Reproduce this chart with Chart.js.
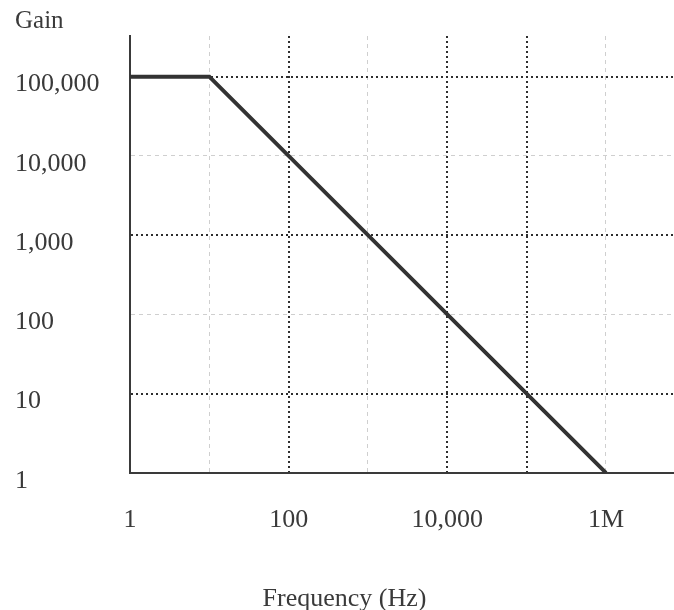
<!DOCTYPE html>
<html>
<head>
<meta charset="utf-8">
<script src="https://cdn.jsdelivr.net/npm/chart.js@4.4.1/dist/chart.umd.min.js"></script>
<style>
  html, body { margin: 0; padding: 0; background: #fff; }
  #wrap { width: 674px; height: 610px; }
</style>
</head>
<body>
<div id="wrap"><canvas id="gain_chart"></canvas></div>
<script>
// open-loop gain vs frequency (log-log)
var freq = [1, 10, 1000000];
var gain = [100000, 100000, 1];

var xTicks = [1, 10, 100, 1000, 10000, 100000, 1000000];
var xLabels = { 1: '1', 100: '100', 10000: '10,000', 1000000: '1M' };
var xStrong = [100, 10000, 100000];

var yTicks = [1, 10, 100, 1000, 10000, 100000];
var yLabels = { 1: '1', 10: '10', 100: '100', 1000: '1,000', 10000: '10,000', 100000: '100,000' };
var yStrong = [10, 1000, 100000];

var serif = "'Liberation Serif', 'DejaVu Serif', serif";
var textColor = '#3a3a3a';

function gridColor(strong) {
  return function (ctx) {
    var v = ctx.tick ? ctx.tick.value : null;
    if (v === 1) return 'rgba(0,0,0,0)';
    return strong.indexOf(v) >= 0 ? '#2e2e2e' : '#cfcfcf';
  };
}
function gridWidth(strong) {
  return function (ctx) {
    var v = ctx.tick ? ctx.tick.value : null;
    return strong.indexOf(v) >= 0 ? 2 : 1;
  };
}
function gridDash(strong) {
  return function (ctx) {
    var v = ctx.tick ? ctx.tick.value : null;
    return strong.indexOf(v) >= 0 ? [2, 3] : [4, 4];
  };
}

new Chart(document.getElementById('gain_chart').getContext('2d'), {
  type: 'line',
  data: {
    datasets: [{
      data: freq.map(function (f, i) { return { x: f, y: gain[i] }; }),
      borderColor: '#333333',
      borderWidth: 4,
      pointRadius: 0,
      tension: 0,
      fill: false
    }]
  },
  options: {
    responsive: true,
    maintainAspectRatio: false,
    animation: false,
    layout: { padding: { left: 15, right: 0, top: 0, bottom: 0 } },
    plugins: {
      legend: { display: false },
      tooltip: { enabled: false },
      title: {
        display: true,
        text: 'Gain',
        align: 'start',
        color: textColor,
        font: { family: serif, size: 25, weight: 'normal' },
        padding: { top: 6, bottom: 0 }
      },
      subtitle: {
        display: true,
        text: 'Frequency (Hz)',
        position: 'bottom',
        color: textColor,
        font: { family: serif, size: 26, weight: 'normal' },
        padding: { top: 0, bottom: -5 }
      }
    },
    scales: {
      x: {
        type: 'logarithmic',
        min: 1,
        max: 7200000,
        afterBuildTicks: function (scale) {
          scale.ticks = xTicks.map(function (v) { return { value: v }; });
        },
        afterFit: function (scale) { scale.height = 111; },
        ticks: {
          autoSkip: false,
          maxRotation: 0,
          padding: 32,
          color: textColor,
          font: { family: serif, size: 26 },
          callback: function (v) { return xLabels[v] || ''; }
        },
        grid: {
          drawTicks: false,
          color: gridColor(xStrong),
          lineWidth: gridWidth(xStrong)
        },
        border: { display: true, color: '#3a3a3a', width: 2, dash: gridDash(xStrong) }
      },
      y: {
        type: 'logarithmic',
        min: 1,
        max: 326000,
        afterBuildTicks: function (scale) {
          scale.ticks = yTicks.map(function (v) { return { value: v }; });
        },
        afterFit: function (scale) { scale.width = 115; },
        ticks: {
          autoSkip: false,
          crossAlign: 'far',
          padding: 0,
          labelOffset: 8,
          color: textColor,
          font: { family: serif, size: 26 },
          callback: function (v) { return yLabels[v] || ''; }
        },
        grid: {
          drawTicks: false,
          color: gridColor(yStrong),
          lineWidth: gridWidth(yStrong)
        },
        border: { display: true, color: '#3a3a3a', width: 2, dash: gridDash(yStrong) }
      }
    }
  }
});
</script>
</body>
</html>
